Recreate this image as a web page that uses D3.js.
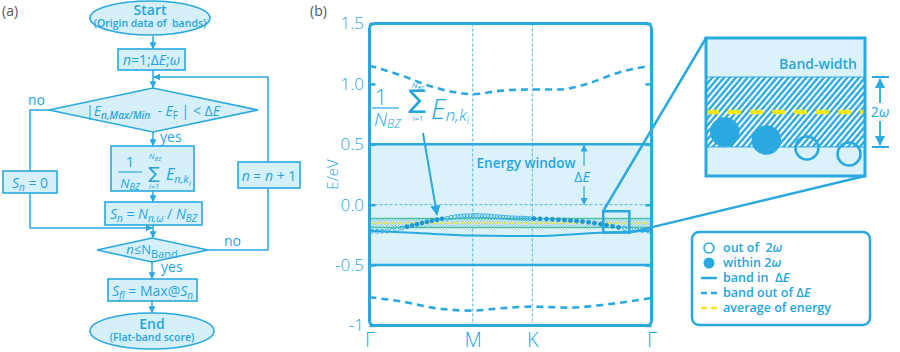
<!DOCTYPE html>
<html><head><meta charset="utf-8">
<script src="https://cdn.jsdelivr.net/npm/d3@7"></script>
<style>
body{margin:0;background:#fff}
svg{display:block}
text{font-family:"Open Sans","Noto Sans",sans-serif;white-space:pre}
</style>
</head><body>
<svg id="c" width="900" height="352"></svg>
<script>
// ---------------- data ----------------
const kLabels = ["Γ", "M", "K", "Γ"];
const kTicks = [0, 0.866, 1.366, 2.366];
const eTicks = [1.5, 1.0, 0.5, 0.0, -0.5, -1];
const eTickLabels = ["1.5", "1.0", "0.5", "0.0", "-0.5", "-1"];
// band above the window (dashed)
const upperK = [0, 0.272, 0.499, 0.692, 0.866, 1.108, 1.366, 1.590, 1.817, 2.094, 2.366];
const upperE = [1.151, 1.068, 0.985, 0.935, 0.915, 0.944, 0.954, 0.954, 0.998, 1.095, 1.151];
// band below the window (dashed)
const lowerK = [0, 0.272, 0.557, 0.866, 1.108, 1.366, 1.673, 1.950, 2.366];
const lowerE = [-0.766, -0.802, -0.857, -0.877, -0.857, -0.844, -0.852, -0.830, -0.772];
// band inside the window (solid)
const inBandK = [0, 0.40, 0.866, 1.366, 1.93, 2.366];
const inBandE = [-0.216, -0.235, -0.255, -0.260, -0.232, -0.215];
// flat band sampled at k points (circles)
const dotK = [0.021,0.063,0.105,0.147,0.189,0.231,0.273,0.315,0.357,0.398,0.440,0.482,0.524,0.566,0.608,0.650,
  0.684,0.718,0.743,0.768,0.793,0.818,0.844,0.869,0.894,0.919,0.944,0.969,0.994,1.019,1.045,1.070,1.095,1.120,
  1.145,1.170,1.195,1.221,1.246,1.271,1.296,1.321,1.346,1.380,1.430,1.485,1.535,1.585,1.636,1.686,1.737,1.787,
  1.838,1.888,1.938,1.988,2.039,2.089,2.139,2.190,2.240,2.290,2.341];
const dotE = [-0.220,-0.220,-0.219,-0.216,-0.212,-0.205,-0.193,-0.182,-0.172,-0.162,-0.152,-0.142,-0.133,-0.124,-0.117,-0.112,
  -0.105,-0.100,-0.097,-0.095,-0.093,-0.092,-0.091,-0.090,-0.090,-0.090,-0.091,-0.092,-0.093,-0.095,-0.097,-0.099,-0.101,-0.103,
  -0.105,-0.107,-0.108,-0.109,-0.110,-0.111,-0.112,-0.113,-0.114,-0.115,-0.117,-0.119,-0.121,-0.124,-0.127,-0.131,-0.135,-0.140,
  -0.146,-0.153,-0.161,-0.170,-0.179,-0.188,-0.196,-0.203,-0.209,-0.214,-0.218];
const energyWindow = [0.5, -0.5];
const avgEnergy = -0.152;
const omega = 0.0375;
// zoomed region
const zoomBoxK = [1.961, 2.180];
const zoomBoxE = [-0.054, -0.231];
const insetE = [-0.0727, -0.2206];
const insetDotK = [1.987, 2.044, 2.100, 2.158];
const insetDotE = [-0.1734, -0.182, -0.1906, -0.197];

// ---------------- style ----------------
const C = "#29a9e0", TC = "#25a5de", LIGHT = "#dcf2fb", BOXF = "#d6f0fb";
const GREEN = "#4dc3a2", YEL = "#f6e61c";

const svg = d3.select("#c");
const defs = svg.append("defs");
function marker(id, size) {
  defs.append("marker").attr("id", id).attr("viewBox", "0 0 10 10").attr("refX", 9).attr("refY", 5)
    .attr("markerWidth", size).attr("markerHeight", size).attr("markerUnits", "userSpaceOnUse")
    .attr("orient", "auto").append("path").attr("d", "M0,0 L10,5 L0,10 z").attr("fill", C);
}
marker("ah", 7); marker("ahB", 10);
const chk = defs.append("pattern").attr("id", "chk").attr("width", 3).attr("height", 3).attr("patternUnits", "userSpaceOnUse");
chk.append("rect").attr("width", 3).attr("height", 3).attr("fill", "#7fc8e2");
chk.append("rect").attr("width", 1.5).attr("height", 1.5).attr("fill", "#eef6f8");
chk.append("rect").attr("x", 1.5).attr("y", 1.5).attr("width", 1.5).attr("height", 1.5).attr("fill", "#eef6f8");
const hat = defs.append("pattern").attr("id", "hat").attr("width", 4.5).attr("height", 4.5)
  .attr("patternUnits", "userSpaceOnUse").attr("patternTransform", "rotate(40)");
hat.append("rect").attr("width", 4.5).attr("height", 4.5).attr("fill", "#fff");
hat.append("line").attr("x1", 1.5).attr("x2", 1.5).attr("y1", 0).attr("y2", 4.5).attr("stroke", C).attr("stroke-width", 2.4);

function rich(sel, x, y, parts, base, anchor) {
  const t = sel.append("text").attr("x", x).attr("y", y).attr("text-anchor", anchor || "middle")
    .attr("fill", TC).style("font-size", base.s + "px").style("font-weight", base.w || 400);
  if (base.f) t.style("font-family", base.f);
  let cur = 0;
  parts.forEach(p => {
    const txt = p[0], st = p[1] || {};
    const o = st.o || 0;
    const ts = t.append("tspan").text(txt).attr("dy", o - cur);
    cur = o;
    if (st.i) ts.style("font-style", "italic");
    if (st.s) ts.style("font-size", st.s + "px");
    if (st.w) ts.style("font-weight", st.w);
  });
  return t;
}
function line(sel, pts, w, mk) {
  const p = sel.append("path").attr("d", d3.line()(pts)).attr("fill", "none").attr("stroke", C).attr("stroke-width", w);
  if (mk) p.attr("marker-end", "url(#" + mk + ")");
  return p;
}
const SUM = "'DejaVu Sans',sans-serif";

// panel labels
svg.append("text").attr("x", 2).attr("y", 16).text("(a)").attr("fill", "#555").style("font-size", "14px");
svg.append("text").attr("x", 310).attr("y", 16).text("(b)").attr("fill", "#555").style("font-size", "14px");

// ---------------- flowchart (a) ----------------
const fc = svg.append("g");
const shape = s => s.attr("fill", BOXF).attr("stroke", C).attr("stroke-width", 1.6);
// connectors
line(fc, [[153, 36], [153, 48.5]], 1.5, "ah");
line(fc, [[153, 70], [153, 87.5]], 1.5, "ah");
line(fc, [[268, 162], [268, 77], [154, 77]], 1.5, "ah");
line(fc, [[49, 110], [30, 110], [30, 171]], 1.5);
line(fc, [[153, 132], [153, 145.5]], 1.5, "ah");
line(fc, [[153, 191], [153, 201.5]], 1.5, "ah");
line(fc, [[153, 225], [153, 237.5]], 1.5, "ah");
line(fc, [[30, 193], [30, 228], [152, 228]], 1.5, "ah");
line(fc, [[208, 250], [268, 250], [268, 188]], 1.5);
line(fc, [[152, 262], [152, 278.5]], 1.5, "ah");
line(fc, [[152, 301], [152, 312.5]], 1.5, "ah");

shape(fc.append("ellipse").attr("cx", 150).attr("cy", 18).attr("rx", 60).attr("ry", 17));
rich(fc, 150, 15, [["Start"]], {s: 14, w: 600});
rich(fc, 150, 27, [["(Origin data of  bands)"]], {s: 10.5, w: 600});

shape(fc.append("rect").attr("x", 118).attr("y", 49).attr("width", 67).attr("height", 21));
rich(fc, 151.5, 65, [["n", {i: 1}], ["=1;Δ"], ["E", {i: 1}], [";"], ["ω", {i: 1}]], {s: 14});

shape(fc.append("path").attr("d", "M49,110 L153,88 L258,110 L153,132 Z"));
rich(fc, 153, 116, [["|"], ["E", {i: 1}], ["n,Max/Min", {i: 1, s: 10, w: 600, o: 3}], ["  - "], ["E", {i: 1}], ["F", {s: 10, o: 3}],
  [" | < Δ"], ["E", {i: 1}]], {s: 14});
rich(fc, 28, 105, [["no"]], {s: 14}, "start");
rich(fc, 160, 142, [["yes"]], {s: 14}, "start");

shape(fc.append("rect").attr("x", 3).attr("y", 171).attr("width", 54).attr("height", 22));
rich(fc, 30, 188, [["S", {i: 1}], ["n", {i: 1, s: 10, o: 3}], [" = 0"]], {s: 14});

shape(fc.append("rect").attr("x", 238).attr("y", 162).attr("width", 62).attr("height", 26));
rich(fc, 269, 181, [["n", {i: 1}], [" = "], ["n", {i: 1}], [" + 1"]], {s: 14});

shape(fc.append("rect").attr("x", 111).attr("y", 146).attr("width", 83).attr("height", 45));
rich(fc, 130, 167, [["1"]], {s: 15});
fc.append("line").attr("x1", 118).attr("x2", 142).attr("y1", 172).attr("y2", 172).attr("stroke", TC).attr("stroke-width", 1.1);
rich(fc, 130, 188, [["N", {i: 1}], ["BZ", {i: 1, s: 9, o: 2}]], {s: 13});
rich(fc, 154, 179, [["∑"]], {s: 17, f: SUM});
rich(fc, 155, 159, [["N", {i: 1}], ["BZ", {i: 1, s: 6, o: 1.5}]], {s: 8});
rich(fc, 154, 189, [["i=1", {i: 1}]], {s: 7.5});
rich(fc, 166, 180, [["E", {i: 1}], ["n,k", {i: 1, s: 11, o: 3}], ["i", {i: 1, s: 8, o: 6}]], {s: 16}, "start");

shape(fc.append("rect").attr("x", 105).attr("y", 202).attr("width", 97).attr("height", 23));
rich(fc, 153.5, 219, [["S", {i: 1}], ["n", {i: 1, s: 10, o: 3}], [" = "], ["N", {i: 1}], ["n,ω", {i: 1, s: 10, o: 3}], [" / "],
  ["N", {i: 1}], ["BZ", {i: 1, s: 10, o: 3}]], {s: 14});

shape(fc.append("path").attr("d", "M97,250 L152,238 L208,250 L152,262 Z"));
rich(fc, 152, 254, [["n", {i: 1}], ["≤N"], ["Band", {s: 11, o: 4}]], {s: 13});
rich(fc, 224, 246, [["no"]], {s: 14}, "start");
rich(fc, 161, 272, [["yes"]], {s: 14}, "start");

shape(fc.append("rect").attr("x", 108).attr("y", 279).attr("width", 89).attr("height", 22));
rich(fc, 152.5, 296, [["S", {i: 1}], ["fl", {i: 1, s: 10, o: 3}], [" = Max@"], ["S", {i: 1}], ["n", {i: 1, s: 10, o: 3}]], {s: 14});

shape(fc.append("ellipse").attr("cx", 152).attr("cy", 331).attr("rx", 62).attr("ry", 18));
rich(fc, 152, 329, [["End"]], {s: 14, w: 600});
rich(fc, 152, 341, [["(Flat-band score)"]], {s: 10.5, w: 600});

// ---------------- band plot (b) ----------------
const x = d3.scaleLinear().domain([0, 2.366]).range([369.5, 651.5]);
const y = d3.scaleLinear().domain([-1, 1.5]).range([325.5, 23.5]);
const g = svg.append("g");

g.append("rect").attr("x", x(0)).attr("width", x(2.366) - x(0)).attr("y", y(energyWindow[0]))
  .attr("height", y(energyWindow[1]) - y(energyWindow[0])).attr("fill", LIGHT);

// grid
[kTicks[1], kTicks[2]].forEach(k => g.append("line").attr("x1", x(k)).attr("x2", x(k)).attr("y1", y(1.5)).attr("y2", y(-1))
  .attr("stroke", "#4cb9e6").attr("stroke-width", 1).attr("stroke-dasharray", "3,2"));
g.append("line").attr("x1", x(0)).attr("x2", x(2.366)).attr("y1", y(0)).attr("y2", y(0))
  .attr("stroke", "#4cb9e6").attr("stroke-width", 1).attr("stroke-dasharray", "3,2");

// flat band ±omega region
g.append("rect").attr("x", x(0)).attr("width", x(2.366) - x(0)).attr("y", y(avgEnergy + omega))
  .attr("height", y(avgEnergy - omega) - y(avgEnergy + omega)).attr("fill", "url(#chk)");
[avgEnergy + omega, avgEnergy - omega].forEach(e => g.append("line").attr("x1", x(0)).attr("x2", x(2.366))
  .attr("y1", y(e)).attr("y2", y(e)).attr("stroke", GREEN).attr("stroke-width", 1.5));
g.append("line").attr("x1", x(0)).attr("x2", x(2.366)).attr("y1", y(avgEnergy)).attr("y2", y(avgEnergy))
  .attr("stroke", YEL).attr("stroke-width", 1.6).attr("stroke-dasharray", "4,3");

const bandLine = d3.line().x(d => x(d[0])).y(d => y(d[1])).curve(d3.curveMonotoneX);
g.append("path").attr("d", bandLine(d3.zip(inBandK, inBandE))).attr("fill", "none").attr("stroke", C).attr("stroke-width", 2);
g.append("path").attr("d", bandLine(d3.zip(upperK, upperE))).attr("fill", "none").attr("stroke", C)
  .attr("stroke-width", 2.6).attr("stroke-dasharray", "7,5");
g.append("path").attr("d", bandLine(d3.zip(lowerK, lowerE))).attr("fill", "none").attr("stroke", C)
  .attr("stroke-width", 2.6).attr("stroke-dasharray", "7,5");

// dots
const within = e => Math.abs(e - avgEnergy) <= omega;
g.selectAll("circle.dot").data(d3.zip(dotK, dotE)).join("circle").attr("class", "dot")
  .attr("cx", d => x(d[0])).attr("cy", d => y(d[1])).attr("r", 2)
  .attr("fill", d => within(d[1]) ? "#1d98d2" : "none").attr("stroke", d => within(d[1]) ? "#1d98d2" : C).attr("stroke-width", 0.9);

// window lines
energyWindow.forEach(e => g.append("line").attr("x1", x(0)).attr("x2", x(2.366)).attr("y1", y(e)).attr("y2", y(e))
  .attr("stroke", C).attr("stroke-width", 2.5));

// axes
const axL = g.append("g").attr("transform", `translate(${x(0)},0)`)
  .call(d3.axisLeft(y).tickValues(eTicks).tickSize(-6).tickPadding(5.5).tickFormat((d, i) => eTickLabels[i]));
const axR = g.append("g").attr("transform", `translate(${x(2.366)},0)`)
  .call(d3.axisRight(y).tickValues(eTicks).tickSize(-6).tickFormat(""));
const axB = g.append("g").attr("transform", `translate(0,${y(-1)})`)
  .call(d3.axisBottom(x).tickValues(kTicks).tickSize(0).tickPadding(7).tickFormat((d, i) => kLabels[i]));
[axL, axR, axB].forEach(a => { a.select(".domain").remove(); a.selectAll("line").attr("stroke", C).attr("stroke-width", 2.5); });
axL.selectAll("text").attr("fill", TC).style("font-size", "17px").style("font-family", "'Open Sans',sans-serif").style("font-weight", 300);
axB.selectAll("text").attr("fill", TC).style("font-size", "20px").style("font-family", "'Open Sans',sans-serif").style("font-weight", 300);
g.append("text").attr("transform", `translate(338,${y(0.25)}) rotate(-90)`).attr("text-anchor", "middle")
  .attr("fill", TC).style("font-size", "15px").style("font-weight", 300).text("E/eV");

// frame
g.append("rect").attr("x", x(0)).attr("y", y(1.5)).attr("width", x(2.366) - x(0)).attr("height", y(-1) - y(1.5))
  .attr("rx", 5).attr("fill", "none").attr("stroke", C).attr("stroke-width", 3);

// formula annotation
rich(g, 381, 105, [["1"]], {s: 22, w: 300});
g.append("line").attr("x1", 372).attr("x2", 399).attr("y1", 108).attr("y2", 108).attr("stroke", TC).attr("stroke-width", 1.2);
rich(g, 374, 126, [["N", {i: 1}], ["BZ", {i: 1, s: 12, o: 2}]], {s: 19, w: 300}, "start");
rich(g, 417, 108, [["∑"]], {s: 26, f: SUM});
rich(g, 418, 88, [["N", {i: 1}], ["BZ", {i: 1, s: 6, o: 1.5}]], {s: 8});
rich(g, 418, 121, [["i=1"]], {s: 7.5});
rich(g, 431, 119, [["E", {i: 1}], ["n,k", {i: 1, s: 17, o: 2}], ["i", {i: 1, s: 11, o: 5}]], {s: 28, w: 300}, "start");
line(g, [[423, 133], [x(dotK[13]), y(dotE[13]) - 5]], 2, "ahB");

// energy window annotation
const ax = x(1.80);
rich(g, 526, 168, [["Energy window"]], {s: 13.5, w: 600});
line(g, [[ax, 166], [ax, y(energyWindow[0]) + 1]], 1.2, "ah");
rich(g, ax - 2, 182, [["Δ"], ["E", {i: 1}]], {s: 14});
line(g, [[ax, 186], [ax, y(0) - 0.5]], 1.2, "ah");

// zoom box and connectors
const ix = d3.scaleLinear().domain(zoomBoxK).range([706, 865]);
const iy = d3.scaleLinear().domain(insetE).range([38, 176]);
g.append("rect").attr("x", x(zoomBoxK[0])).attr("y", y(zoomBoxE[0])).attr("width", x(zoomBoxK[1]) - x(zoomBoxK[0]))
  .attr("height", y(zoomBoxE[1]) - y(zoomBoxE[0])).attr("fill", "none").attr("stroke", C).attr("stroke-width", 2.5);
line(g, [[x(zoomBoxK[0]), y(zoomBoxE[0])], [ix.range()[0], iy.range()[0]]], 2.5);
line(g, [[x(zoomBoxK[1]), y(zoomBoxE[1])], [ix.range()[1], iy.range()[1]]], 2.5);

// inset
const ins = svg.append("g");
ins.append("rect").attr("x", 706).attr("y", 38).attr("width", 159).attr("height", 138).attr("fill", LIGHT);
ins.append("rect").attr("x", 706).attr("y", iy(avgEnergy + omega)).attr("width", 159)
  .attr("height", iy(avgEnergy - omega) - iy(avgEnergy + omega)).attr("fill", "url(#hat)");
[avgEnergy + omega, avgEnergy - omega].forEach(e => ins.append("line").attr("x1", 706).attr("x2", 865)
  .attr("y1", iy(e)).attr("y2", iy(e)).attr("stroke", C).attr("stroke-width", 1));
ins.append("line").attr("x1", 706).attr("x2", 865).attr("y1", iy(avgEnergy)).attr("y2", iy(avgEnergy))
  .attr("stroke", YEL).attr("stroke-width", 4.5).attr("stroke-dasharray", "13,9");
ins.selectAll("circle").data(d3.zip(insetDotK, insetDotE)).join("circle")
  .attr("cx", d => ix(d[0])).attr("cy", d => iy(d[1])).attr("r", d => within(d[1]) ? 13.5 : 11.5)
  .attr("fill", d => within(d[1]) ? C : "none").attr("stroke", C).attr("stroke-width", 2.5);
ins.append("rect").attr("x", 706).attr("y", 38).attr("width", 159).attr("height", 138)
  .attr("fill", "none").attr("stroke", C).attr("stroke-width", 3);
rich(ins, 818, 69, [["Band-width"]], {s: 14, w: 600});
[avgEnergy + omega, avgEnergy - omega].forEach(e => ins.append("line").attr("x1", 872).attr("x2", 889)
  .attr("y1", iy(e)).attr("y2", iy(e)).attr("stroke", C).attr("stroke-width", 2));
line(ins, [[880, 103], [880, iy(avgEnergy + omega) + 2]], 1.8, "ahB");
line(ins, [[880, 121], [880, iy(avgEnergy - omega) - 2]], 1.8, "ahB");
rich(ins, 880, 117, [["2"], ["ω", {i: 1}]], {s: 14});

// legend
const lg = svg.append("g");
lg.append("rect").attr("x", 692).attr("y", 232).attr("width", 178).attr("height", 93).attr("rx", 7)
  .attr("fill", "#fff").attr("stroke", C).attr("stroke-width", 2.5);
lg.append("circle").attr("cx", 709).attr("cy", 248).attr("r", 5).attr("fill", "none").attr("stroke", C).attr("stroke-width", 1.6);
lg.append("circle").attr("cx", 709).attr("cy", 263).attr("r", 5.5).attr("fill", C);
lg.append("line").attr("x1", 701).attr("x2", 717).attr("y1", 278).attr("y2", 278).attr("stroke", C).attr("stroke-width", 2.5);
lg.append("line").attr("x1", 701).attr("x2", 717).attr("y1", 293).attr("y2", 293).attr("stroke", C).attr("stroke-width", 2.5).attr("stroke-dasharray", "6,4");
lg.append("line").attr("x1", 701).attr("x2", 717).attr("y1", 308).attr("y2", 308).attr("stroke", YEL).attr("stroke-width", 2.5).attr("stroke-dasharray", "6,4");
const legendText = [
  [["out of  2"], ["ω", {i: 1}]],
  [["within 2"], ["ω", {i: 1}]],
  [["band in  Δ"], ["E", {i: 1}]],
  [["band out of Δ"], ["E", {i: 1}]],
  [["average of energy"]]
];
legendText.forEach((p, i) => rich(lg, 723, 252 + i * 15, p, {s: 12.5, w: 600}, "start"));
</script>
</body></html>
